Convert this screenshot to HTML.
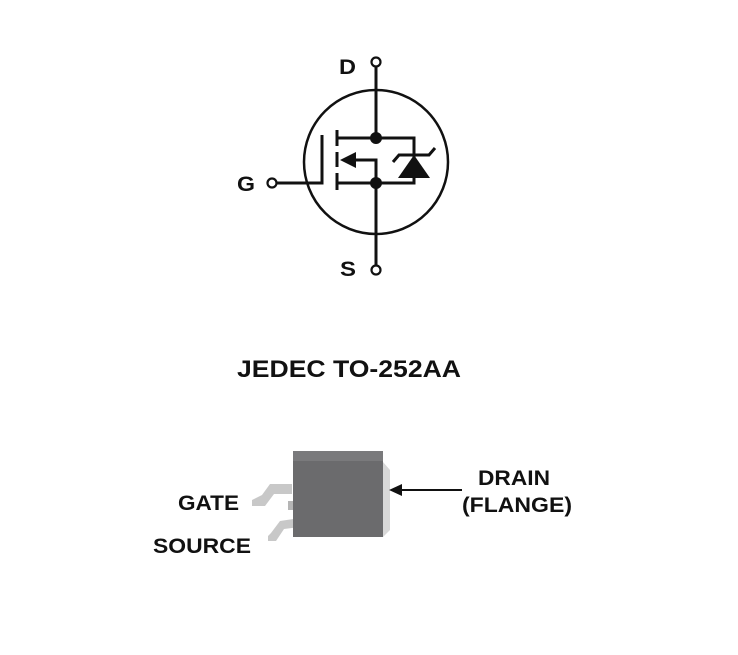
<!DOCTYPE html>
<html><head><style>
body{margin:0;background:#fff;}
svg{display:block;}
text{font-family:"Liberation Sans",Arial,sans-serif;font-weight:bold;fill:#111;}
</style></head><body>
<svg width="738" height="655" viewBox="0 0 738 655">
<g stroke="#111" stroke-width="3" fill="none">
<circle cx="376" cy="162" r="72" stroke-width="2.5"/>
<line x1="376" y1="66" x2="376" y2="138"/>
<line x1="376" y1="183" x2="376" y2="266"/>
<circle cx="376" cy="62" r="4.5" stroke-width="2.2" fill="#fff"/>
<circle cx="376" cy="270" r="4.5" stroke-width="2.2" fill="#fff"/>
<circle cx="272" cy="183" r="4.5" stroke-width="2.2" fill="#fff"/>
<polyline points="277,183 322,183 322,135"/>
<line x1="337" y1="130" x2="337" y2="146"/>
<line x1="337" y1="152" x2="337" y2="167"/>
<line x1="337" y1="173" x2="337" y2="190"/>
<polyline points="337,138 414,138 414,183 337,183"/>
<polyline points="352,160 376,160 376,183"/>
<polyline points="393,162 399,155 429,155 435,148"/>
</g>
<polygon points="340,160 356,152 356,168" fill="#111"/>
<polygon points="414,155 398,178 430,178" fill="#111"/>
<circle cx="376" cy="138" r="6" fill="#111"/>
<circle cx="376" cy="183" r="6" fill="#111"/>
<text x="339" y="74" font-size="21" textLength="17" lengthAdjust="spacingAndGlyphs">D</text>
<text x="237" y="191" font-size="21" textLength="18" lengthAdjust="spacingAndGlyphs">G</text>
<text x="340" y="276" font-size="21" textLength="16" lengthAdjust="spacingAndGlyphs">S</text>
<text x="237" y="377" font-size="24" textLength="224" lengthAdjust="spacingAndGlyphs">JEDEC TO-252AA</text>
<!-- package -->
<polygon points="383,462 390,470 390,530 383,537" fill="#d8d8d8"/>
<polyline points="292,484 270,484 262,495 252,500 252,506 265,506 274,494 292,494" fill="#c8c8c8"/>
<rect x="288" y="501" width="14" height="9" fill="#b5b5b5"/>
<polyline points="300,518 280,521 271,533 268,536 268,541 276,541 284,529 300,527" fill="#c8c8c8"/>
<rect x="293" y="451" width="90" height="86" fill="#6b6b6d"/>
<rect x="293" y="451" width="90" height="10" fill="#7a7a7c"/>
<text x="178" y="510" font-size="21" textLength="61" lengthAdjust="spacingAndGlyphs">GATE</text>
<text x="153" y="553" font-size="21" textLength="98" lengthAdjust="spacingAndGlyphs">SOURCE</text>
<text x="478" y="485" font-size="21" textLength="72" lengthAdjust="spacingAndGlyphs">DRAIN</text>
<text x="462" y="512" font-size="21" textLength="110" lengthAdjust="spacingAndGlyphs">(FLANGE)</text>
<line x1="400" y1="490" x2="462" y2="490" stroke="#111" stroke-width="2"/>
<polygon points="389,490 402,484 402,496" fill="#111"/>
</svg>
</body></html>
